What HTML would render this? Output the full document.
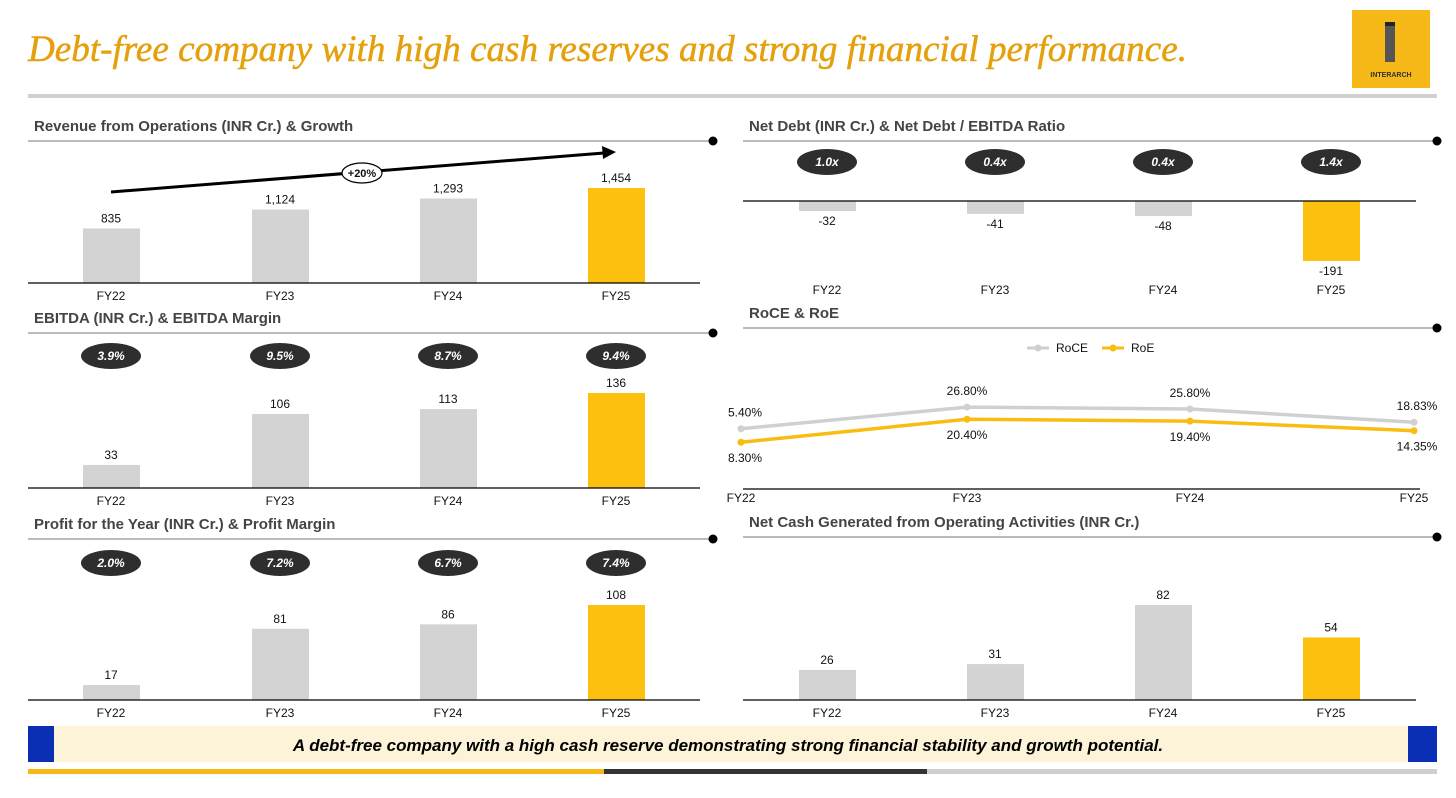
<!DOCTYPE html>
<html><head><meta charset="utf-8"><style>
body{margin:0;width:1456px;height:793px;background:#fff;overflow:hidden;font-family:"Liberation Sans",sans-serif}
svg text{font-family:"Liberation Sans",sans-serif}
</style></head><body>
<svg id="s" width="1456" height="793" xmlns="http://www.w3.org/2000/svg">
<text x="28" y="61" font-style="italic" font-size="37" fill="#e5a00d" textLength="1159" lengthAdjust="spacingAndGlyphs" stroke="#e5a00d" stroke-width="0.5" style="font-family:'Liberation Serif',serif">Debt-free company with high cash reserves and strong financial performance.</text>
<g>
<rect x="1352" y="10" width="78" height="78" fill="#f7b918"/>
<rect x="1385" y="22" width="10" height="40" fill="#555"/>
<rect x="1385" y="22" width="10" height="4" fill="#222"/>
<text x="1391" y="77" font-size="7" font-weight="bold" text-anchor="middle" fill="#333">INTERARCH</text>
</g>
<rect x="28" y="94" width="1409" height="4" fill="#d0d0d0"/>
<g id="charts"></g>
<g>
<rect x="28" y="726" width="1409" height="36" fill="#fdf3d8"/>
<rect x="28" y="726" width="26" height="36" fill="#0a2fb5"/>
<rect x="1408" y="726" width="29" height="36" fill="#0a2fb5"/>
<text x="728" y="751" text-anchor="middle" font-size="17" font-weight="bold" font-style="italic" fill="#000">A debt-free company with a high cash reserve demonstrating strong financial stability and growth potential.</text>
</g>
<rect x="28" y="769" width="576" height="5" fill="#f7b918"/>
<rect x="604" y="769" width="323" height="5" fill="#333"/>
<rect x="927" y="769" width="510" height="5" fill="#cfcfcf"/>
</svg>
<script>
const years=["FY22","FY23","FY24","FY25"];
const revenue=[835,1124,1293,1454];
const ebitda=[33,106,113,136];
const ebitdaMargin=["3.9%","9.5%","8.7%","9.4%"];
const profit=[17,81,86,108];
const profitMargin=["2.0%","7.2%","6.7%","7.4%"];
const netDebt=[-32,-41,-48,-191];
const debtRatio=["1.0x","0.4x","0.4x","1.4x"];
const roce=[15.4,26.8,25.8,18.83];
const roceLabels=["5.40%","26.80%","25.80%","18.83%"];
const roe=[8.3,20.4,19.4,14.35];
const roeLabels=["8.30%","20.40%","19.40%","14.35%"];
const netCash=[26,31,82,54];
const NS="http://www.w3.org/2000/svg";
const root=document.getElementById('charts');
function el(t,a,p){const e=document.createElementNS(NS,t);for(const k in a)e.setAttribute(k,a[k]);(p||root).appendChild(e);return e;}
function txt(x,y,s,a,p){const e=el('text',Object.assign({x:x,y:y,'font-size':12,fill:'#111','text-anchor':'middle'},a||{}),p);e.textContent=s;return e;}
const leftX=[111,280,448,616], rightX=[827,995,1163,1331];
function header(x0,x1,y,title,name){
 const g=el('g',{});
 
 
 txt(x0+6,y,title,{'text-anchor':'start','font-size':15,'font-weight':'bold',fill:'#444'},g);
 el('line',{x1:x0,x2:x1,y1:y+10,y2:y+10,stroke:'#777','stroke-width':1},g);
 el('circle',{cx:x1,cy:y+10,r:4.5,fill:'#000'},g);
}
function barChart(cx,vals,max,base,h,x0,x1,name){
 const g=el('g',{});
 
 
 vals.forEach((v,i)=>{
  const bh=v/max*h;
  const r=el('rect',{x:cx[i]-28,y:base-bh,width:57,height:bh,fill:i==3?'#fdc00f':'#d3d3d3'},g);
  
  
  txt(cx[i],base-bh-6,v.toLocaleString('en-US'),{},g);
  txt(cx[i],base+17,years[i],{},g);
 });
 el('line',{x1:x0,x2:x1,y1:base,y2:base,stroke:'#000','stroke-width':1.3},g);
}
function pills(cx,labels,y,name){
 labels.forEach((s,i)=>{
  const g=el('g',{});
  
  
  el('ellipse',{cx:cx[i],cy:y,rx:30,ry:13,fill:'#2e2e2e'},g);
  txt(cx[i],y+4,s,{fill:'#fff','font-weight':'bold','font-style':'italic','font-size':12},g);
 });
}
header(28,713,131,"Revenue from Operations (INR Cr.) & Growth","revenue");
barChart(leftX,revenue,1454,283,95,28,700,"revenue");
const ar=el('g',{});


el('line',{x1:111,y1:192,x2:604,y2:153,stroke:'#000','stroke-width':3},ar);
el('polygon',{points:'616,152 602,146 603,159',fill:'#000'},ar);
el('ellipse',{cx:362,cy:173,rx:20,ry:10,fill:'#fff',stroke:'#000','stroke-width':1.2},ar);
txt(362,177,"+20%",{'font-size':11,'font-weight':'bold'},ar);
header(28,713,323,"EBITDA (INR Cr.) & EBITDA Margin","ebitda");
pills(leftX,ebitdaMargin,356,"ebitda-margin");
barChart(leftX,ebitda,136,488,95,28,700,"ebitda");
header(28,713,529,"Profit for the Year (INR Cr.) & Profit Margin","profit");
pills(leftX,profitMargin,563,"profit-margin");
barChart(leftX,profit,108,700,95,28,700,"profit");
header(743,1437,131,"Net Debt (INR Cr.) & Net Debt / EBITDA Ratio","net-debt");
pills(rightX,debtRatio,162,"debt-ratio");
(function(){
 const g=el('g',{});
 
 
 const base=201,k=60/191;
 netDebt.forEach((v,i)=>{
  const bh=-v*k;
  const r=el('rect',{x:rightX[i]-28,y:base,width:57,height:bh,fill:i==3?'#fdc00f':'#d3d3d3'},g);
  
  
  txt(rightX[i],base+bh+14,String(v),{},g);
  txt(rightX[i],294,years[i],{},g);
 });
 el('line',{x1:743,x2:1416,y1:base,y2:base,stroke:'#000','stroke-width':1.3},g);
})();
header(743,1437,318,"RoCE & RoE","roce-roe");
(function(){
 const g=el('g',{});
 
 
 const xs=[741,967,1190,1414];
 const y=v=>458-v*1.9;
 const lg=el('g',{},g);
 
 
 el('line',{x1:1027,x2:1049,y1:348,y2:348,stroke:'#cfcfcf','stroke-width':3},lg);
 el('circle',{cx:1038,cy:348,r:3.5,fill:'#cfcfcf'},lg);
 txt(1056,352,"RoCE",{'text-anchor':'start'},lg);
 el('line',{x1:1102,x2:1124,y1:348,y2:348,stroke:'#fbbc12','stroke-width':3},lg);
 el('circle',{cx:1113,cy:348,r:3.5,fill:'#fbbc12'},lg);
 txt(1131,352,"RoE",{'text-anchor':'start'},lg);
 [[roce,'#d0d0d0',roceLabels,-12,'roce'],[roe,'#fbbc12',roeLabels,20,'roe']].forEach(([d,c,lab,off,n])=>{
  const p=el('polyline',{points:d.map((v,i)=>xs[i]+','+y(v)).join(' '),fill:'none',stroke:c,'stroke-width':3.5},g);
  
  
  d.forEach((v,i)=>{
   const pt=el('circle',{cx:xs[i],cy:y(v),r:3.5,fill:c},g);
   
   
   const lx=i==0?745:(i==3?1417:xs[i]);
   txt(lx,y(v)+off,lab[i],{},g);
  });
 });
 el('line',{x1:743,x2:1420,y1:489,y2:489,stroke:'#000','stroke-width':1.3},g);
 xs.forEach((x,i)=>txt(x,502,years[i],{},g));
})();
header(743,1437,527,"Net Cash Generated from Operating Activities (INR Cr.)","net-cash");
barChart(rightX,netCash,82,700,95,743,1416,"net-cash");
</script>
</body></html>
